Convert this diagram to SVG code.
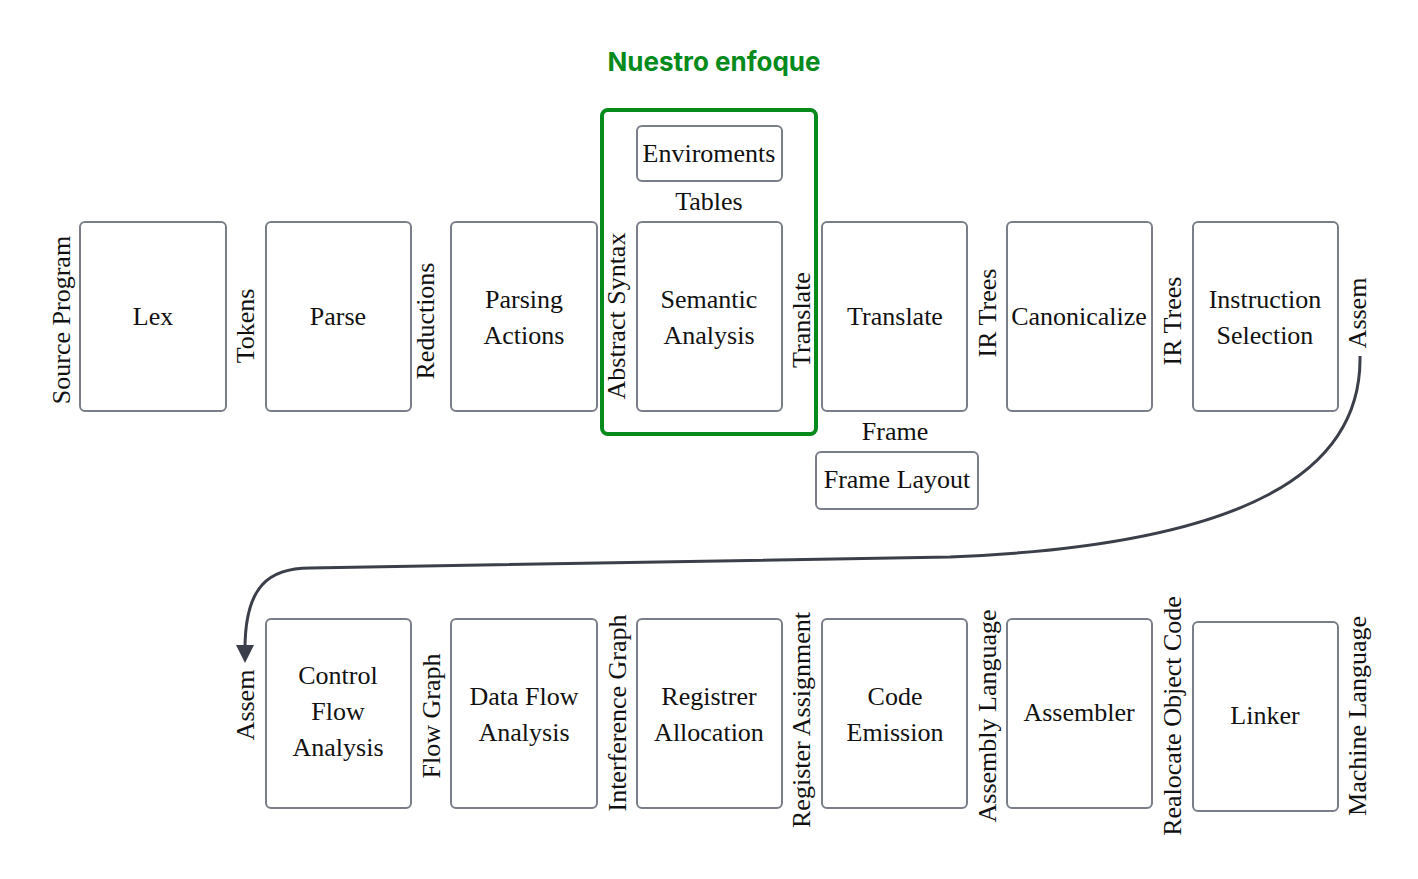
<svg xmlns="http://www.w3.org/2000/svg" width="1418" height="879" viewBox="0 0 1418 879">
<defs>
<style>
.box{fill:#fff;stroke:#7a7e88;stroke-width:2}
.t{font-family:"Liberation Serif","DejaVu Serif",serif;font-size:26px;fill:#111;text-anchor:middle;dominant-baseline:central}
.conn{fill:none;stroke:#3a3f4a;stroke-width:3}
</style>
<marker id="arr" viewBox="0 0 20 20" refX="4" refY="10" markerWidth="20" markerHeight="20" markerUnits="userSpaceOnUse" orient="auto">
<path d="M0,1 L18,10 L0,19 Z" fill="#3a3f4a"/>
</marker>
</defs>
<rect width="1418" height="879" fill="#fff"/>
<g id="focus">
<rect x="602" y="110" width="214" height="324" rx="6" fill="none" stroke="#058a1c" stroke-width="4"/>
<text x="714" y="61" style="font-family:Inter,'Liberation Sans',sans-serif;font-size:26px;font-weight:700;fill:#058a1c;text-anchor:middle;dominant-baseline:central">Nuestro enfoque</text>
</g>
<g id="connectors">
<path class="conn" d="M1360,356 C1362,470 1250,545 950,557 L310,568 C270,568 245,585 245,649" marker-end="url(#arr)"/>
</g>
<g id="lex"><rect class="box" x="80" y="222" width="146" height="189" rx="5"/><text class="t" x="153" y="316">Lex</text></g>
<g id="parse"><rect class="box" x="266" y="222" width="145" height="189" rx="5"/><text class="t" x="338" y="316">Parse</text></g>
<g id="parsing-actions"><rect class="box" x="451" y="222" width="146" height="189" rx="5"/><text class="t" x="524" y="299">Parsing</text><text class="t" x="524" y="335">Actions</text></g>
<g id="semantic"><rect class="box" x="637" y="222" width="145" height="189" rx="5"/><text class="t" x="709" y="299">Semantic</text><text class="t" x="709" y="335">Analysis</text></g>
<g id="translate"><rect class="box" x="822" y="222" width="145" height="189" rx="5"/><text class="t" x="895" y="316">Translate</text></g>
<g id="canonicalize"><rect class="box" x="1007" y="222" width="145" height="189" rx="5"/><text class="t" x="1079" y="316">Canonicalize</text></g>
<g id="instruction-selection"><rect class="box" x="1193" y="222" width="145" height="189" rx="5"/><text class="t" x="1265" y="299">Instruction</text><text class="t" x="1265" y="335">Selection</text></g>
<g id="enviroments"><rect class="box" x="637" y="126" width="145" height="55" rx="5"/><text class="t" x="709" y="153">Enviroments</text></g>
<g id="frame-layout"><rect class="box" x="816" y="452" width="162" height="57" rx="5"/><text class="t" x="897" y="479">Frame Layout</text></g>
<g id="control-flow"><rect class="box" x="266" y="619" width="145" height="189" rx="5"/><text class="t" x="338" y="675">Control</text><text class="t" x="338" y="711">Flow</text><text class="t" x="338" y="747">Analysis</text></g>
<g id="data-flow"><rect class="box" x="451" y="619" width="146" height="189" rx="5"/><text class="t" x="524" y="696">Data Flow</text><text class="t" x="524" y="732">Analysis</text></g>
<g id="register-allocation"><rect class="box" x="637" y="619" width="145" height="189" rx="5"/><text class="t" x="709" y="696">Registrer</text><text class="t" x="709" y="732">Allocation</text></g>
<g id="code-emission"><rect class="box" x="822" y="619" width="145" height="189" rx="5"/><text class="t" x="895" y="696">Code</text><text class="t" x="895" y="732">Emission</text></g>
<g id="assembler"><rect class="box" x="1007" y="619" width="145" height="189" rx="5"/><text class="t" x="1079" y="712">Assembler</text></g>
<g id="linker"><rect class="box" x="1193" y="622" width="145" height="189" rx="5"/><text class="t" x="1265" y="715">Linker</text></g>
<g id="labels">
<text class="t" x="709" y="201">Tables</text>
<text class="t" x="895" y="431">Frame</text>
<text class="t" transform="translate(61,320) rotate(-90)">Source Program</text>
<text class="t" transform="translate(245,326) rotate(-90)">Tokens</text>
<text class="t" transform="translate(425,321) rotate(-90)">Reductions</text>
<text class="t" transform="translate(616,316) rotate(-90)">Abstract Syntax</text>
<text class="t" transform="translate(801,320) rotate(-90)">Translate</text>
<text class="t" transform="translate(987,313) rotate(-90)">IR Trees</text>
<text class="t" transform="translate(1172,321) rotate(-90)">IR Trees</text>
<text class="t" transform="translate(1357,313) rotate(-90)">Assem</text>
<text class="t" transform="translate(245,705) rotate(-90)">Assem</text>
<text class="t" transform="translate(431,716) rotate(-90)">Flow Graph</text>
<text class="t" transform="translate(617,713) rotate(-90)">Interference Graph</text>
<text class="t" transform="translate(801,720) rotate(-90)">Register Assignment</text>
<text class="t" transform="translate(987,716) rotate(-90)">Assembly Language</text>
<text class="t" transform="translate(1172,716) rotate(-90)">Realocate Object Code</text>
<text class="t" transform="translate(1357,716) rotate(-90)">Machine Language</text>
</g>
</svg>
